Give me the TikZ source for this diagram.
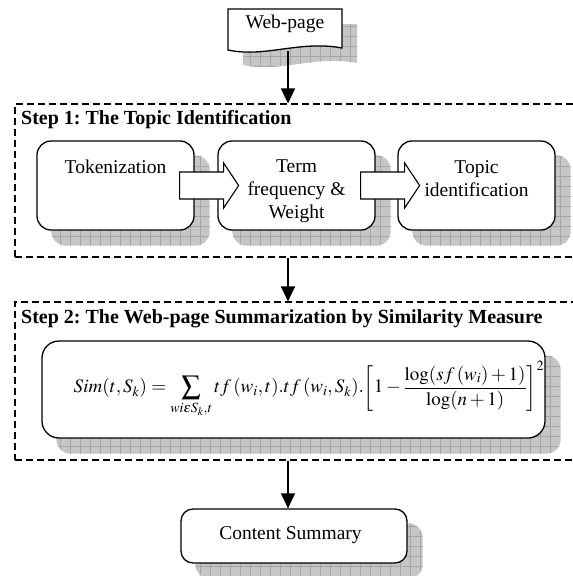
\documentclass[tikz,border=0pt]{standalone}
\usepackage{amsmath}
\usepackage{mathptmx}
\usepackage{fontspec}
\setmainfont{Liberation Serif}
\frenchspacing
\usetikzlibrary{arrows.meta,patterns.meta,backgrounds,calc}

\begin{document}
\begin{tikzpicture}[x=1pt,y=-1pt,
  box/.style={draw, line width=1.3pt, rounded corners=14pt, fill=white, inner sep=0pt},
  stepbox/.style={draw, line width=1.1pt, dash pattern=on 7pt off 4pt, inner sep=0pt},
  boxshadow/.style={fill=gray!45, postaction={pattern={Hatch[angle=0,distance=10pt,line width=0.4pt]}, pattern color=gray!70}},
  flow/.style={line width=1.3pt, -{Triangle[length=15pt,width=14pt]}},
  bigarrow/.style={draw, line width=1.1pt, fill=white, line join=miter},
  boxtext/.style={font=\fontsize{19.5}{23}\selectfont, align=center, inner sep=0pt},
  steptitle/.style={font=\fontsize{20}{24}\selectfont\bfseries, inner sep=0pt}]
\path[use as bounding box, clip] (0,0) rectangle (573,576);

% input page
\fill[boxshadow, shift={(15,15)}] (228,9) -- (342,9) -- (342,48)
  .. controls (300,40) and (265,58) .. (228,50) -- cycle;
\draw[line width=1.3pt, fill=white] (228,9) -- (342,9) -- (342,48)
  .. controls (300,40) and (265,58) .. (228,50) -- cycle;
\node[boxtext, anchor=base] (web) at (285,28.5) {Web-page};
\coordinate (webbot) at (288,51);

% step 1
\node[stepbox, minimum width=560pt, minimum height=153pt] (step1) at (295,180.5) {};
\node[steptitle, anchor=base west] (title1) at (21,124) {Step 1: The Topic Identification};
\node[box, minimum width=157pt, minimum height=89pt] (tok) at (115.5,185.5) {};
\node[box, minimum width=157pt, minimum height=89pt] (term) at (296.5,185.5) {};
\node[box, minimum width=157pt, minimum height=89pt] (topic) at (476.5,185.5) {};
\node[boxtext, anchor=north] (toktext) at (115.5,160) {Tokenization};
\node[boxtext, anchor=north] (termtext) at (296.5,160) {Term\\frequency \&\\Weight};
\node[boxtext, anchor=north] (topictext) at (476.5,160) {Topic\\identification};
\foreach \a in {tok,term}
  \draw[bigarrow] ($(\a.east)+(-15,-13.5)$) -- ++(44,0) -- ++(0,-9) -- ++(15,22.5)
    -- ++(-15,22.5) -- ++(0,-9) -- ++(-44,0) -- cycle;

% step 2
\node[stepbox, minimum width=560pt, minimum height=158pt] (step2) at (295,381) {};
\node[steptitle, anchor=base west] (title2) at (21,323.5) {Step 2: The Web-page Summarization by Similarity Measure};
\node[box, minimum width=503pt, minimum height=97pt, rounded corners=17pt] (sim) at (293.5,389.5) {};
\node[inner sep=0pt, font=\fontsize{19}{23}\selectfont] (simeq) at (309,389.5)
  {$\displaystyle Sim(t,S_k)=\sum_{wi\varepsilon S_k,t} tf\,(w_i,t).tf\,(w_i,S_k).\!\left[1-\frac{\log(sf\,(w_i)+1)}{\log(n+1)}\right]^2$};

% output
\node[box, minimum width=226pt, minimum height=54pt, rounded corners=12pt] (summ) at (294,536) {};
\node[boxtext, anchor=base] (summtext) at (290.5,539) {Content Summary};

\draw[flow] (webbot) -- (webbot |- step1.north);
\draw[flow] (step1.south -| webbot) -- (step2.north -| webbot);
\draw[flow] (step2.south -| webbot) -- (summ.north -| webbot);

\begin{pgfonlayer}{background}
\foreach \n in {tok,term,topic,sim,summ}
  \fill[boxshadow, rounded corners=14pt] ([shift={(15pt,-15pt)}]\n.south west) rectangle ([shift={(15pt,-15pt)}]\n.north east);
\end{pgfonlayer}
\end{tikzpicture}
\end{document}
